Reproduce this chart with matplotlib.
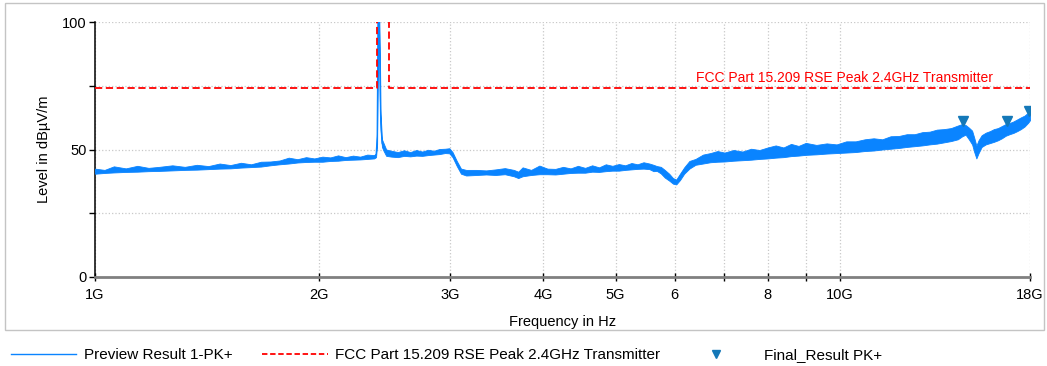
import matplotlib.pyplot as plt
from matplotlib.lines import Line2D
from matplotlib.patches import Rectangle

plt.rcParams['font.family'] = ['Liberation Sans', 'DejaVu Sans']

freq_ghz = [1.00, 1.03, 1.06, 1.10, 1.14, 1.18, 1.22, 1.27, 1.32, 1.37,
            1.42, 1.47, 1.52, 1.57, 1.62, 1.67, 1.72, 1.77, 1.82, 1.87,
            1.92, 1.97, 2.02, 2.07, 2.12, 2.17, 2.22, 2.27, 2.32, 2.37,
            2.384, 2.392, 2.398, 2.405, 2.412, 2.418, 2.428, 2.44, 2.46, 2.50,
            2.55, 2.60, 2.65, 2.70, 2.75, 2.80, 2.85, 2.90, 2.95, 2.99,
            3.02, 3.06, 3.10, 3.15, 3.25, 3.35, 3.45, 3.55, 3.65, 3.70,
            3.75, 3.85, 3.95, 4.05, 4.15, 4.25, 4.35, 4.45, 4.55, 4.65,
            4.75, 4.85, 4.95, 5.05, 5.15, 5.25, 5.35, 5.45, 5.55, 5.62,
            5.68, 5.75, 5.82, 5.90, 5.97, 6.03, 6.10, 6.18, 6.28, 6.40,
            6.55, 6.70, 6.85, 7.0, 7.2, 7.4, 7.6, 7.8, 8.0, 8.2,
            8.4, 8.6, 8.8, 9.0, 9.3, 9.6, 9.9, 10.2, 10.5, 10.8,
            11.1, 11.4, 11.7, 12.0, 12.3, 12.6, 12.9, 13.2, 13.5, 13.8,
            14.1, 14.4, 14.6, 14.75, 14.9, 15.05, 15.15, 15.25, 15.35, 15.5,
            15.7, 15.9, 16.1, 16.3, 16.5, 16.7, 16.9, 17.1, 17.3, 17.5,
            17.7, 17.9, 18.0]
level_lo = [40.5, 40.8, 41.0, 41.2, 41.3, 41.5, 41.6, 41.8, 42.0, 42.1,
            42.3, 42.5, 42.6, 42.9, 43.1, 43.3, 43.8, 44.2, 44.5, 44.9,
            45.1, 45.2, 45.2, 45.5, 45.6, 45.9, 46.0, 46.1, 46.3, 46.5,
            47.0, 52.0, 90.0, 98.0, 70.0, 58.0, 51.0, 49.5, 47.5, 47.2,
            47.0, 47.5, 47.3, 47.6, 47.5, 47.8, 48.0, 48.2, 48.6, 48.5,
            47.0, 43.5, 40.5, 39.8, 40.0, 40.2, 40.0, 40.3, 39.5, 38.8,
            39.5, 40.0, 40.3, 40.3, 40.2, 40.5, 40.8, 40.9, 40.9, 41.3,
            41.2, 41.5, 41.7, 41.7, 42.0, 42.2, 42.4, 42.5, 42.3, 41.5,
            41.6, 40.6, 39.0, 37.8, 36.6, 36.3, 38.0, 40.5, 42.5, 44.0,
            44.5, 45.0, 45.2, 45.3, 45.6, 45.8, 46.0, 46.3, 46.5, 46.8,
            47.0, 47.4, 47.6, 47.9, 48.1, 48.4, 48.6, 48.8, 49.0, 49.4,
            49.6, 50.0, 50.3, 50.6, 51.0, 51.3, 51.6, 52.0, 52.3, 52.8,
            53.3, 54.0, 55.2, 55.8, 54.0, 52.0, 49.0, 46.5, 48.5, 51.0,
            52.0, 52.5, 53.0, 53.6, 54.4, 55.4, 56.0, 56.5, 57.2, 58.0,
            59.0, 60.5, 61.5]
level_hi = [42.5, 42.0, 43.4, 42.6, 43.6, 42.8, 43.2, 43.8, 43.2, 44.0,
            43.5, 44.5, 43.9, 44.8, 44.2, 45.2, 45.3, 45.7, 46.8, 46.2,
            47.0, 46.5, 47.2, 46.9, 47.7, 47.0, 47.6, 47.2, 48.0, 47.8,
            48.5, 58.0, 110.0, 110.0, 90.0, 64.0, 54.0, 52.5, 50.0, 49.5,
            49.0, 49.7, 49.0, 49.8, 49.2, 49.9, 49.5, 50.2, 50.3, 50.5,
            49.0, 45.5, 42.5, 42.0, 42.0, 41.8, 42.2, 42.7, 42.0, 41.3,
            43.0, 42.0, 43.7, 42.5, 42.4, 43.2, 42.6, 43.6, 42.8, 43.8,
            43.0, 44.2, 43.6, 44.3, 43.8, 44.7, 44.2, 45.0, 44.5, 44.0,
            43.5, 43.2, 42.0, 40.5, 38.8, 38.2, 40.5, 43.0, 45.5, 46.3,
            48.0, 48.6, 49.4, 48.8, 49.8, 49.2, 50.3, 49.8, 50.8, 51.6,
            50.8, 52.2, 51.4, 52.6, 51.8, 52.4, 52.0, 53.2, 53.2, 54.0,
            54.4, 54.0, 55.2, 55.3, 56.0, 56.0, 56.8, 57.0, 57.8, 58.0,
            58.4, 59.4, 60.0, 59.6, 58.6, 57.4, 54.6, 51.5, 53.6, 55.6,
            56.6, 57.2, 58.0, 58.4, 59.2, 60.0, 60.4, 61.0, 61.8, 62.6,
            63.3, 64.5, 65.0]

# limit line: 74 dBuV/m, lifted out of the restricted band around 2.4 GHz
limit_f = [1.0, 2.39, 2.39, 2.4835, 2.4835, 18.0]
limit_v = [74.0, 74.0, 200.0, 200.0, 74.0, 74.0]
limit_name = "FCC Part 15.209 RSE Peak 2.4GHz Transmitter"

# final result markers
final_f = [14.63, 16.76, 17.97]
final_v = [61.0, 61.0, 65.2]

xticks = [1, 2, 3, 4, 5, 6, 7, 8, 9, 10, 18]
xtick_labels = ["1G", "2G", "3G", "4G", "5G", "6", "", "8", "", "10G", "18G"]

trace_col = "#0a84ff"

fig = plt.figure(figsize=(10.47, 3.66), dpi=100)
fig.patches.append(Rectangle((5 / 1047, 36 / 366), 1039 / 1047, 327 / 366,
                             transform=fig.transFigure, fill=False,
                             edgecolor="#c4c4c4", lw=1.0))
ax = fig.add_axes([95 / 1047, 89 / 366, 935 / 1047, 255 / 366])

ax.fill_between(freq_ghz, level_lo, level_hi, color=trace_col, lw=0.6, zorder=3)
mid = [(a + b) / 2 for a, b in zip(level_lo, level_hi)]
ax.plot(freq_ghz, mid, color=trace_col, lw=0.8, zorder=3)
ax.plot(limit_f, limit_v, color="red", ls=(0, (4, 2)), lw=1.3, zorder=4)
ax.plot(final_f, final_v, ls="none", marker="v", ms=7, color="#1478b8", zorder=5)
ax.text(16.05, 75.2, limit_name, color="red", fontsize=10, ha="right", va="bottom")

ax.set_xscale("log")
ax.set_xlim(1, 18)
ax.set_ylim(0, 100)
ax.set_xticks(xticks)
ax.set_xticklabels(xtick_labels)
ax.minorticks_off()
ax.set_yticks([0, 25, 50, 75, 100])
ax.set_yticklabels(["0", "", "50", "", "100"])
ax.tick_params(axis="x", direction="inout", length=6, width=1, pad=5,
               labelsize=10.5, color="black")
ax.tick_params(axis="y", direction="out", length=4, width=1, pad=2, labelsize=10.5)
ax.grid(True, ls=":", color="#c8c8c8", lw=0.9)
ax.set_axisbelow(True)
for s in ["top", "right"]:
    ax.spines[s].set_visible(False)
ax.spines["left"].set_linewidth(1.1)
ax.spines["bottom"].set_color("#808080")
ax.spines["bottom"].set_linewidth(2)

ax.set_ylabel("Level in dBµV/m", fontsize=10.5, labelpad=8)
ax.set_xlabel("Frequency in Hz", fontsize=10.5, labelpad=9)

# legend below the frame, one entry per block
leg_items = [
    (Line2D([], [], color=trace_col, lw=1), "Preview Result 1-PK+", 0.0),
    (Line2D([], [], color="red", ls=(0, (3, 1.5)), lw=1.3), limit_name, 0.240),
    (Line2D([], [], ls="none", marker="v", ms=6, color="#1478b8"), "Final_Result PK+", 0.642),
]
for h, lab, x in leg_items:
    pad = 1.0 if h.get_marker() == "v" else 0.5
    lg = fig.legend([h], [lab], loc="center left", bbox_to_anchor=(x, 11 / 366),
                    frameon=False, fontsize=11, handlelength=4.3, handletextpad=pad,
                    borderpad=0.2)

fig.savefig("out.png", dpi=100)
